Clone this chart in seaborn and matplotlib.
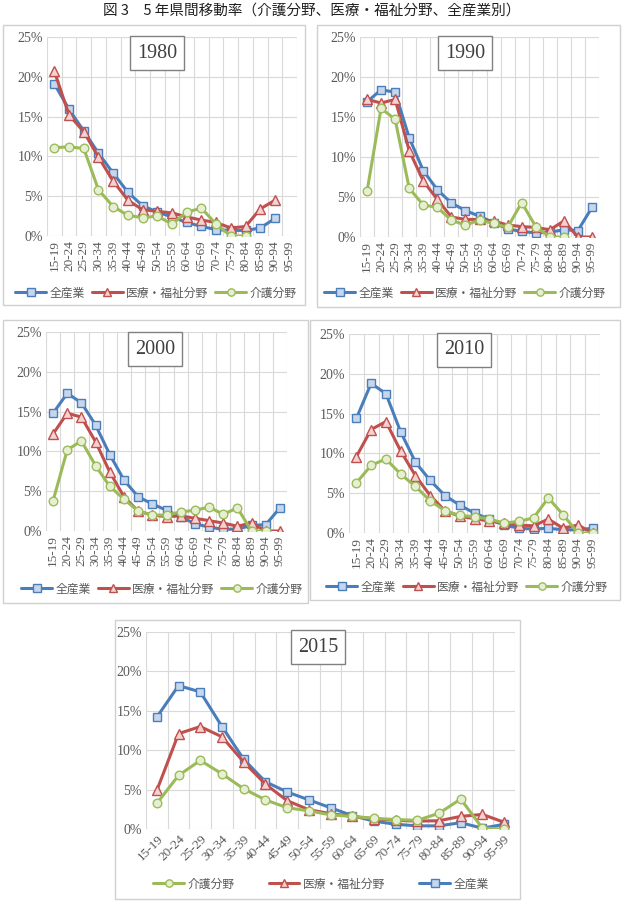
import numpy as np
import matplotlib
matplotlib.use("Agg")
import matplotlib.pyplot as plt
import seaborn as sns
from matplotlib.patches import Rectangle

sns.set_style("white")
plt.rcParams['font.family'] = ['Noto Sans CJK JP', 'DejaVu Sans']

nan = np.nan
title = "図 3　5 年県間移動率（介護分野、医療・福祉分野、全産業別）"
ages = ["15-19", "20-24", "25-29", "30-34", "35-39", "40-44", "45-49", "50-54", "55-59",
        "60-64", "65-69", "70-74", "75-79", "80-84", "85-89", "90-94", "95-99"]
series_names = ["全産業", "医療・福祉分野", "介護分野"]
years = ["1980", "1990", "2000", "2010", "2015"]

zensangyo_1980 = [19.1, 15.9, 13.2, 10.4, 7.9, 5.5, 3.8, 3.0, 2.4, 1.7, 1.2, 0.8, 0.7, 0.7, 1.0, 2.2, nan]
iryo_1980 = [20.7, 15.2, 13.1, 9.9, 6.9, 4.5, 3.3, 3.1, 2.9, 2.4, 2.0, 1.7, 1.0, 1.2, 3.4, 4.5, nan]
kaigo_1980 = [11.1, 11.2, 11.0, 5.8, 3.7, 2.6, 2.3, 2.5, 1.5, 3.0, 3.5, 1.5, 0.0, 0.0, nan, nan, nan]

zensangyo_1990 = [16.9, 18.4, 18.1, 12.4, 8.3, 5.9, 4.25, 3.3, 2.6, 1.8, 1.0, 0.7, 0.5, 0.6, 0.9, 0.8, 3.7]
iryo_1990 = [17.2, 16.75, 17.2, 10.8, 7.0, 4.7, 2.5, 2.2, 2.2, 2.0, 1.5, 1.3, 1.2, 0.9, 2.0, 0.0, 0.0]
kaigo_1990 = [5.7, 16.1, 14.7, 6.1, 4.0, 3.7, 2.1, 1.5, 2.1, 1.7, 1.2, 4.3, 1.3, 0.0, 0.0, nan, nan]

zensangyo_2000 = [14.8, 17.3, 16.1, 13.3, 9.6, 6.4, 4.3, 3.4, 2.6, 1.8, 0.9, 0.5, 0.2, 0.25, 0.7, 0.8, 2.9]
iryo_2000 = [12.2, 14.8, 14.3, 11.2, 7.4, 4.3, 2.5, 2.0, 1.8, 1.9, 1.6, 1.3, 1.0, 0.6, 1.0, 0.0, 0.0]
kaigo_2000 = [3.8, 10.2, 11.3, 8.2, 5.6, 4.0, 2.5, 2.0, 2.0, 2.4, 2.6, 3.0, 2.1, 2.9, 0.0, 0.0, nan]

zensangyo_2010 = [14.4, 18.8, 17.5, 12.7, 8.9, 6.6, 4.7, 3.5, 2.5, 1.75, 1.0, 0.6, 0.5, 0.6, 0.4, 0.4, 0.6]
iryo_2010 = [9.6, 13.0, 14.0, 10.3, 7.2, 4.7, 2.8, 2.1, 1.8, 1.5, 1.2, 1.0, 0.9, 1.75, 0.6, 1.0, 0.0]
kaigo_2010 = [6.3, 8.5, 9.3, 7.4, 5.85, 4.05, 2.8, 2.2, 2.05, 1.75, 1.25, 1.45, 1.9, 4.4, 2.3, 0.0, 0.0]

zensangyo_2015 = [14.2, 18.2, 17.4, 13.0, 8.85, 6.0, 4.7, 3.7, 2.7, 1.7, 1.0, 0.6, 0.4, 0.4, 0.8, 0.1, 0.6]
iryo_2015 = [4.9, 12.1, 13.0, 11.7, 8.5, 5.7, 3.6, 2.45, 1.95, 1.6, 1.3, 1.1, 1.0, 1.05, 1.6, 1.85, 0.85]
kaigo_2015 = [3.25, 6.8, 8.7, 7.0, 5.1, 3.7, 2.7, 2.3, 1.8, 1.6, 1.35, 1.2, 1.1, 2.0, 3.8, 0.1, 0.0]

yticks = [0, 5, 10, 15, 20, 25]

data = {
    "1980": [zensangyo_1980, iryo_1980, kaigo_1980],
    "1990": [zensangyo_1990, iryo_1990, kaigo_1990],
    "2000": [zensangyo_2000, iryo_2000, kaigo_2000],
    "2010": [zensangyo_2010, iryo_2010, kaigo_2010],
    "2015": [zensangyo_2015, iryo_2015, kaigo_2015],
}

styles = [
    dict(color="#4A7EBB", marker="s", mfc="#C6D6EC", ms=6.2),
    dict(color="#C0504D", marker="^", mfc="#F4D2D1", ms=6.5),
    dict(color="#9BBB59", marker="o", mfc="#E6EFD4", ms=6.2),
]

W, H = 624, 901
fig = plt.figure(figsize=(W / 100, H / 100), dpi=100)

def fx(x):
    return x / W

def fy(y):
    return 1 - y / H

layout = {
    "1980": dict(box=(3, 25, 305, 305), plot=(47, 37, 297, 236), yb=(157, 53), leg=(156, 293), rot=90, order=[0, 1, 2], cs=0.6),
    "1990": dict(box=(317, 25, 620, 307), plot=(360, 37, 599, 237), yb=(465, 53), leg=(465, 293), rot=90, order=[0, 1, 2], cs=0.6),
    "2000": dict(box=(3, 320, 308, 603), plot=(46, 332, 287, 531), yb=(155, 349), leg=(162, 589), rot=90, order=[0, 1, 2], cs=0.6),
    "2010": dict(box=(310, 320, 620, 600), plot=(349, 334, 600, 533), yb=(464, 350), leg=(467, 587), rot=90, order=[0, 1, 2], cs=0.6),
    "2015": dict(box=(115, 620, 520, 899), plot=(146, 632, 515, 829), yb=(318, 647), leg=(321, 884), rot=45, order=[2, 1, 0], cs=2.9),
}

serif = ['Liberation Serif', 'DejaVu Serif']
x = np.arange(len(ages))

for yr in years:
    L = layout[yr]
    bx0, by0, bx1, by1 = L["box"]
    fig.patches.append(Rectangle((fx(bx0), fy(by1)), fx(bx1 - bx0), (by1 - by0) / H,
                                 transform=fig.transFigure, fill=False, edgecolor="#D0D0D0", lw=1.0, zorder=0))
    px0, py0, px1, py1 = L["plot"]
    ax = fig.add_axes([fx(px0), fy(py1), fx(px1 - px0), (py1 - py0) / H])
    for i, vals in enumerate(data[yr]):
        st = styles[i]
        sns.lineplot(x=x, y=np.array(vals, dtype=float), ax=ax, color=st["color"], lw=2.2,
                     marker=st["marker"], markersize=st["ms"], markerfacecolor=st["mfc"],
                     markeredgecolor=st["color"], markeredgewidth=1.0, label=series_names[i],
                     legend=False, zorder=3 + i)
    ax.set_xlim(-0.5, len(ages) - 0.5)
    ax.set_ylim(0, 25)
    ax.set_yticks(yticks)
    ax.set_yticklabels([f"{v}%" for v in yticks], family=serif, fontsize=10, color="#595959")
    ax.set_xticks(x)
    if L["rot"] == 90:
        ax.set_xticklabels(ages, rotation=90, family=serif, fontsize=9.5, color="#595959")
    else:
        ax.set_xticklabels(ages, rotation=45, ha="right", rotation_mode="anchor",
                           family=serif, fontsize=9.5, color="#595959")
    ax.set_xticks(np.arange(-0.5, len(ages), 1.0), minor=True)
    ax.grid(True, which="minor", axis="x", color="#D9D9D9", lw=0.8)
    ax.grid(True, which="major", axis="y", color="#D9D9D9", lw=0.8)
    ax.grid(False, which="major", axis="x")
    ax.tick_params(which="both", length=0, pad=3)
    for s in ax.spines.values():
        s.set_visible(False)
    ax.set_xlabel("")
    ax.set_ylabel("")
    fig.text(fx(L["yb"][0]), fy(L["yb"][1]), yr, ha="center", va="center", fontsize=14.5,
             family=serif, color="#404040",
             bbox=dict(boxstyle="square,pad=0.35", fc="white", ec="#808080", lw=1.0))
    lines = ax.get_lines()
    handles = [lines[i] for i in L["order"]]
    labels = [series_names[i] for i in L["order"]]
    leg = ax.legend(handles, labels, loc="center", bbox_to_anchor=(fx(L["leg"][0]), fy(L["leg"][1])),
                    bbox_transform=fig.transFigure, ncol=3, frameon=False, fontsize=8.5,
                    handlelength=2.6, handletextpad=0.3, columnspacing=L["cs"], borderpad=0,
                    markerscale=0.85)
    for t in leg.get_texts():
        t.set_color("#595959")

fig.text(0.5, fy(11), title, ha="center", va="center", fontsize=10.5, color="#202020")

fig.savefig("out.png", dpi=100)
